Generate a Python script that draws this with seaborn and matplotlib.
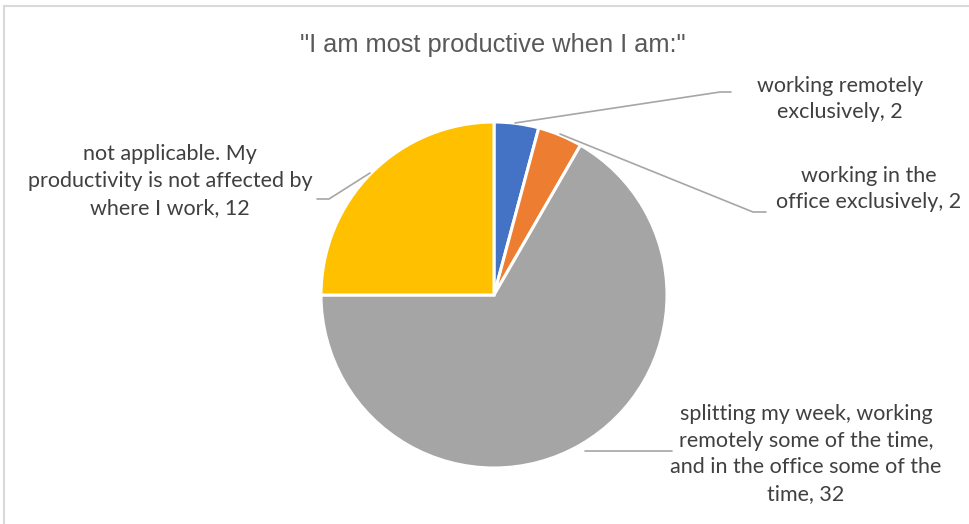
import matplotlib
matplotlib.use("Agg")
import matplotlib.pyplot as plt
import seaborn as sns

# ---- data ----
categories = [
    "working remotely\nexclusively",
    "working in the\noffice exclusively",
    "splitting my week, working\nremotely some of the time,\nand in the office some of the\ntime",
    "not applicable. My\nproductivity is not affected by\nwhere I work",
]
values = [2, 2, 32, 12]
colors = ["#4472C4", "#ED7D31", "#A5A5A5", "#FFC000"]
title = "\"I am most productive when I am:\""

sns.set_theme(style="white")
plt.rcParams["font.family"] = ["Lato", "DejaVu Sans"]

W, H = 969, 524
fig = plt.figure(figsize=(W / 100, H / 100), dpi=100)
ax = fig.add_axes([0, 0, 1, 1])
ax.set_xlim(0, W)
ax.set_ylim(0, H)
ax.set_aspect("equal")
ax.axis("off")

def Y(y):
    return H - y

cx, cy, r = 494, 295, 173
ax.pie(values, colors=colors, startangle=90, counterclock=False,
       center=(cx, Y(cy)), radius=r,
       wedgeprops=dict(edgecolor="white", linewidth=2.2))
ax.set_xlim(0, W)
ax.set_ylim(0, H)

# chart frame
ax.plot([4, W], [Y(6), Y(6)], color="#d9d9d9", lw=1.5, clip_on=False)
ax.plot([4, 4], [Y(6), 0], color="#d9d9d9", lw=1.5, clip_on=False)

# title
ax.text(493, Y(45), title, ha="center", va="center", fontsize=18.3,
        color="#595959", family=["Liberation Sans", "DejaVu Sans"])

lc = "#a6a6a6"
# leader lines
ax.plot([515, 720, 731], [Y(123), Y(92), Y(92)], color=lc, lw=1.2)
ax.plot([560, 753, 766], [Y(134), Y(212), Y(212)], color=lc, lw=1.2)
ax.plot([585, 672], [Y(451), Y(451)], color=lc, lw=1.2)
ax.plot([317, 329, 370], [Y(199), Y(199), Y(173)], color=lc, lw=1.2)

labels = [f"{c}, {v}" for c, v in zip(categories, values)]
positions = [(840, 99), (869, 189), (806, 454), (170, 181)]
for lab, (x, y) in zip(labels, positions):
    ax.text(x, Y(y), lab, ha="center", va="center", fontsize=15.5,
            color="#404040", linespacing=1.42)

fig.savefig("out.png", dpi=100)
